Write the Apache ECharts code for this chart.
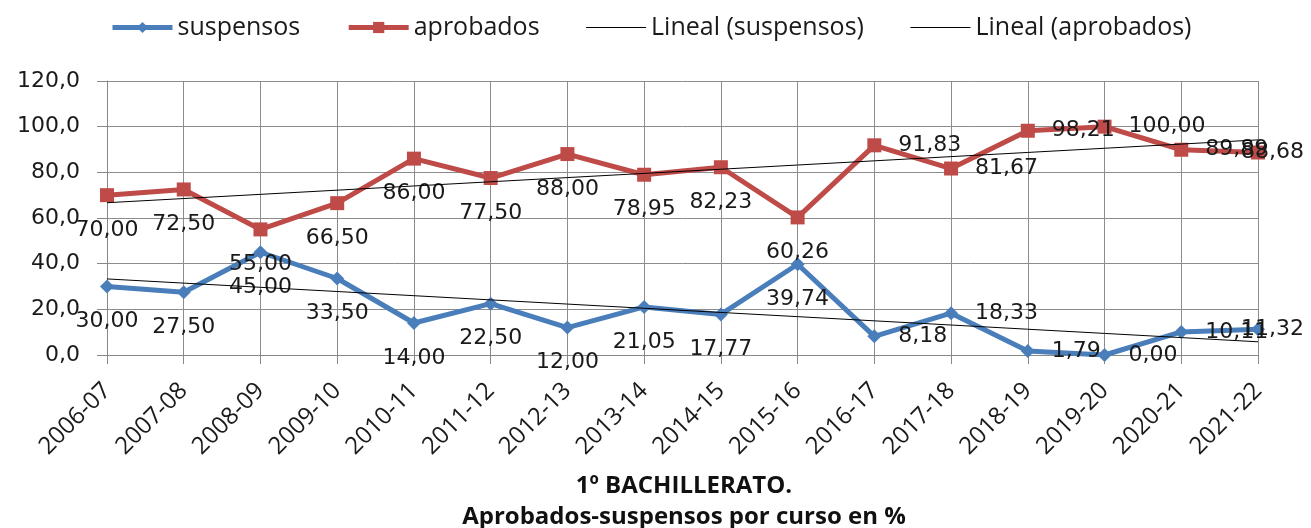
<!DOCTYPE html>
<html>
<head>
<meta charset="utf-8">
<script src="https://cdn.jsdelivr.net/npm/echarts@6/dist/echarts.min.js"></script>
<style>
  html, body { margin: 0; padding: 0; background: #fff; }
  #chart { width: 1311px; height: 528px; }
</style>
</head>
<body>
<div id="chart"></div>
<script>
// datos
const cursos = ['2006-07', '2007-08', '2008-09', '2009-10', '2010-11', '2011-12', '2012-13', '2013-14',
  '2014-15', '2015-16', '2016-17', '2017-18', '2018-19', '2019-20', '2020-21', '2021-22'];
const suspensos = [30.00, 27.50, 45.00, 33.50, 14.00, 22.50, 12.00, 21.05, 17.77, 39.74, 8.18, 18.33, 1.79, 0.00, 10.11, 11.32];
const aprobados = [70.00, 72.50, 55.00, 66.50, 86.00, 77.50, 88.00, 78.95, 82.23, 60.26, 91.83, 81.67, 98.21, 100.00, 89.89, 88.68];

const AZUL = '#4A7EBB';
const ROJO = '#BE4B48';

// linea de tendencia lineal (minimos cuadrados), como la de Excel
function tendencia(vals) {
  const n = vals.length;
  let sx = 0, sy = 0, sxy = 0, sxx = 0;
  vals.forEach((y, x) => { sx += x; sy += y; sxy += x * y; sxx += x * x; });
  const m = (n * sxy - sx * sy) / (n * sxx - sx * sx);
  const b = (sy - m * sx) / n;
  return vals.map((_, x) => +(m * x + b).toFixed(3));
}

// las primeras etiquetas van debajo, las ultimas a la derecha
// (la ultima se mete hacia dentro para que no se salga)
function conEtiquetas(vals) {
  const ult = vals.length - 1;
  return vals.map((v, i) => ({
    value: v,
    label: {
      position: i < 10 ? 'bottom' : 'right',
      offset: i === ult ? [-41, 0] : [0, 0]
    }
  }));
}

const etiqueta = {
  show: true,
  distance: 17,
  fontFamily: 'DejaVu Sans',
  fontSize: 22,
  color: '#1a1a1a',
  formatter: p => p.value.toFixed(2).replace('.', ',')
};

var myChart = echarts.init(document.getElementById('chart'));
const option = {
  animation: false,
  backgroundColor: '#fff',
  title: {
    text: '1º BACHILLERATO.\nAprobados-suspensos por curso en %',
    left: 684,
    textAlign: 'center',
    top: 471,
    padding: 0,
    textStyle: {
      fontFamily: 'Open Sans',
      fontWeight: 'bold',
      fontSize: 24,
      lineHeight: 31,
      color: '#111'
    }
  },
  legend: {
    top: 10,
    left: 105,
    itemWidth: 60,
    itemHeight: 14,
    itemGap: 46,
    textStyle: { fontFamily: 'Open Sans', fontSize: 25, color: '#1a1a1a' },
    data: [
      { name: 'suspensos', lineStyle: { width: 5 } },
      { name: 'aprobados', lineStyle: { width: 5 } },
      { name: 'Lineal (suspensos)', itemStyle: { opacity: 0 }, lineStyle: { width: 1 } },
      { name: 'Lineal (aprobados)', itemStyle: { opacity: 0 }, lineStyle: { width: 1 } }
    ]
  },
  grid: { left: 107, right: 53, top: 81, bottom: 173 },
  xAxis: {
    type: 'category',
    data: cursos,
    boundaryGap: false,
    axisLine: { lineStyle: { color: '#888' } },
    axisTick: { show: true, length: 9, lineStyle: { color: '#888' } },
    axisLabel: {
      rotate: 45,
      margin: 32,
      interval: 0,
      fontFamily: 'Open Sans',
      fontSize: 24,
      color: '#1a1a1a'
    },
    splitLine: { show: true, lineStyle: { color: '#8c8c8c', width: 1 } }
  },
  yAxis: {
    type: 'value',
    min: 0,
    max: 120,
    interval: 20,
    axisLine: { show: true, lineStyle: { color: '#888' } },
    axisTick: { show: true, length: 10, lineStyle: { color: '#888' } },
    axisLabel: {
      margin: 27,
      fontFamily: 'DejaVu Sans',
      fontSize: 22,
      color: '#1a1a1a',
      formatter: v => v.toFixed(1).replace('.', ',')
    },
    splitLine: { show: true, lineStyle: { color: '#8c8c8c', width: 1 } }
  },
  series: [
    {
      name: 'suspensos',
      type: 'line',
      data: conEtiquetas(suspensos),
      symbol: 'diamond',
      symbolSize: 14,
      itemStyle: { color: AZUL },
      lineStyle: { color: AZUL, width: 5 },
      label: etiqueta,
      z: 3
    },
    {
      name: 'aprobados',
      type: 'line',
      data: conEtiquetas(aprobados),
      symbol: 'rect',
      symbolSize: 14,
      itemStyle: { color: ROJO },
      lineStyle: { color: ROJO, width: 5 },
      label: etiqueta,
      z: 3
    },
    {
      name: 'Lineal (suspensos)',
      type: 'line',
      data: tendencia(suspensos),
      symbol: 'none',
      itemStyle: { color: '#000' },
      lineStyle: { color: '#000', width: 1 },
      silent: true,
      z: 4
    },
    {
      name: 'Lineal (aprobados)',
      type: 'line',
      data: tendencia(aprobados),
      symbol: 'none',
      itemStyle: { color: '#000' },
      lineStyle: { color: '#000', width: 1 },
      silent: true,
      z: 4
    }
  ]
};
myChart.setOption(option);
</script>
</body>
</html>
